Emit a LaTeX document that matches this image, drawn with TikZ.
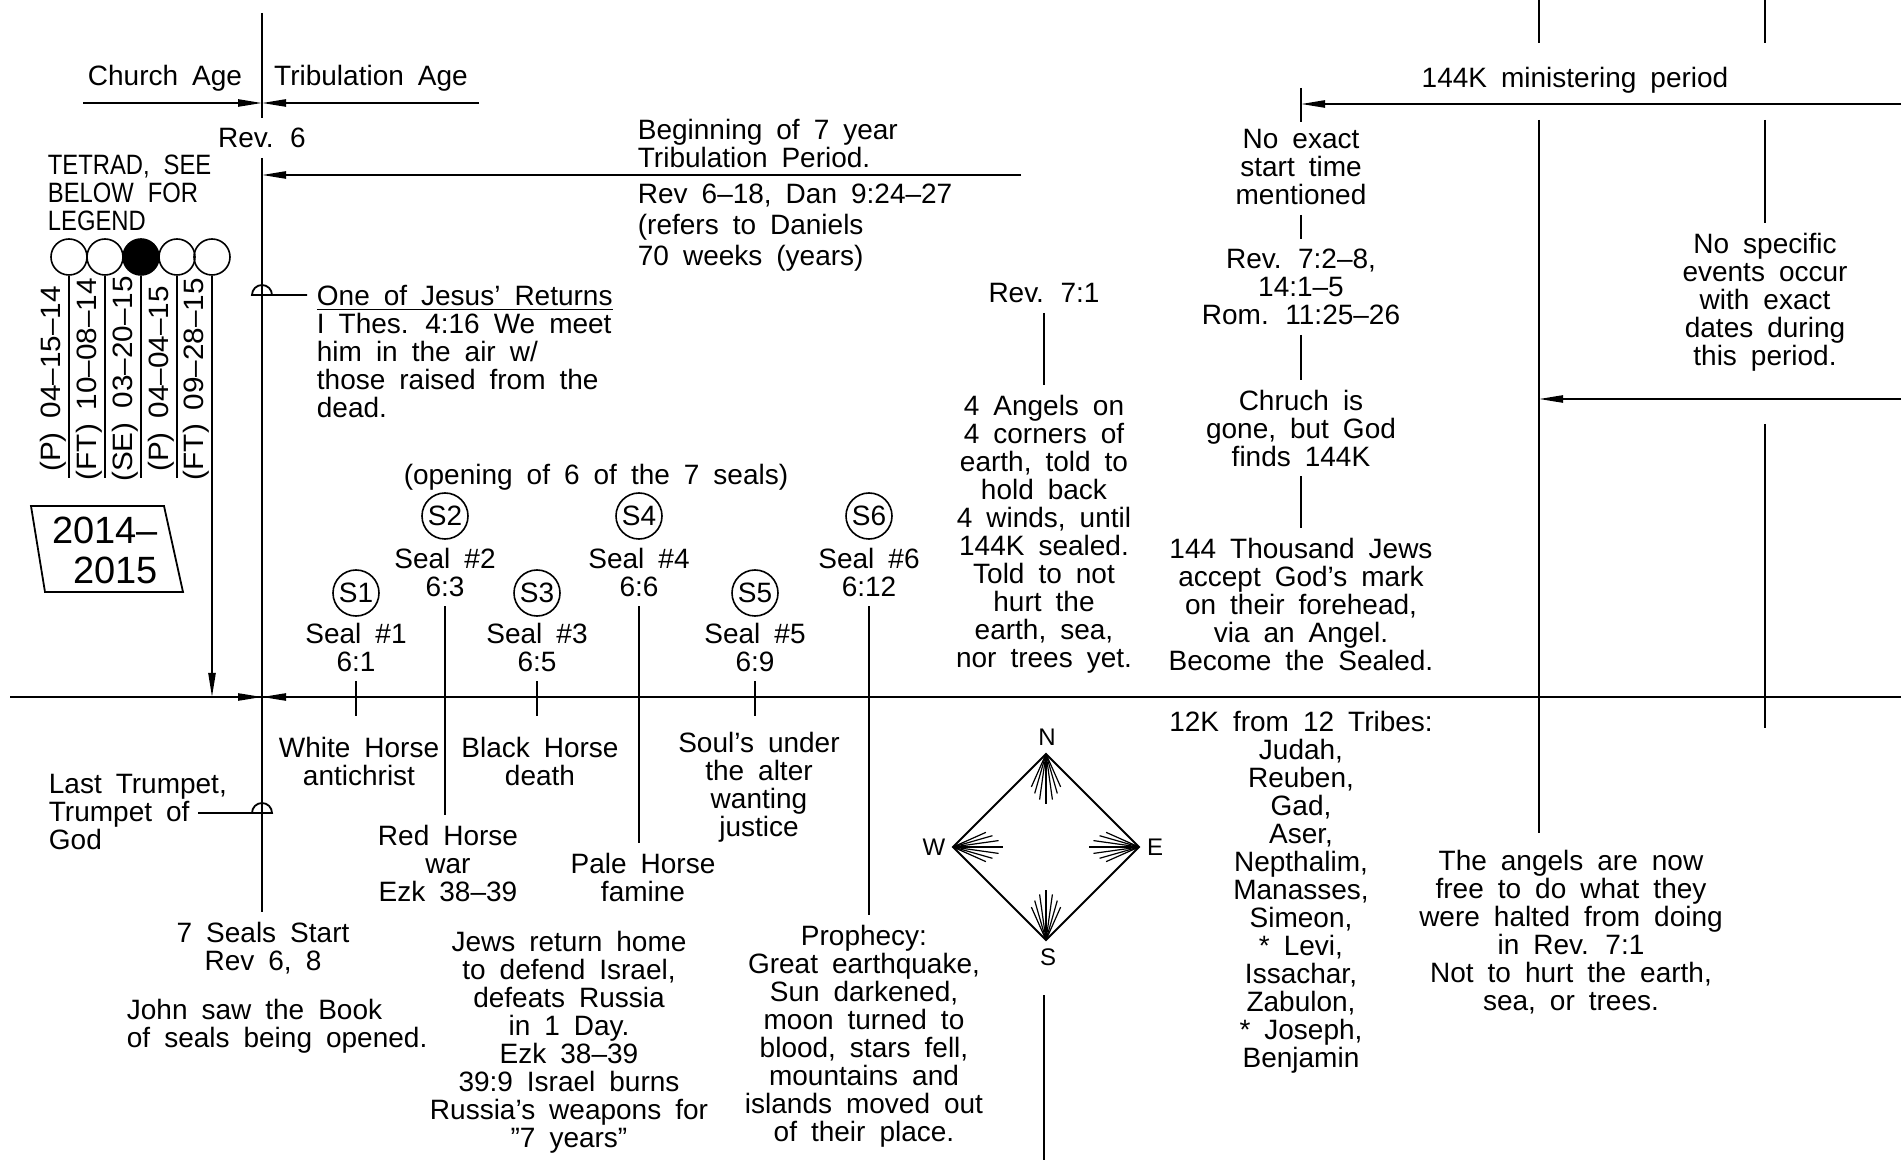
\documentclass[tikz,border=0pt]{standalone}
\usepackage{fontspec}
\setmainfont{Liberation Sans}[Ligatures=TeX]
\usetikzlibrary{arrows.meta}
\newcommand\cadfont{\fontsize{14}{14}\selectfont\spaceskip=0.5em\relax}
\newcommand\loosefont{\fontsize{14}{15.5}\selectfont\spaceskip=0.5em\relax}
\begin{document}
\begin{tikzpicture}[x=0.5pt, y=-0.5pt, line width=0.9pt, >={Triangle[length=12pt,width=3.6pt]},
  every node/.style={font=\cadfont, inner sep=0pt, align=center},
  col/.style={outer sep=5pt},
  lft/.style={align=left, anchor=west},
  seal/.style={draw, circle, minimum size=23pt, line width=0.8pt},
  tet/.style={draw, circle, minimum size=18pt, line width=0.8pt},
  fan/.style={line width=0.6pt}]
\useasboundingbox (0,0) rectangle (1903,1160);
\coordinate (tl) at (10,697);
\coordinate (tr) at (1901,697);
\coordinate (rs) at (262,697);
\draw (tl) -- (tr);
\draw[->] (200,697) -- (rs);
\draw[->] (324,697) -- (rs);
\node (church) at (165,78) {Church Age};
\node (tribage) at (371,78) {Tribulation Age};
\coordinate (split) at (262,103);
\draw[->] (83,103) -- (split);
\draw[->] (479,103) -- (split);
\node[col] (rev6) at (262,138) {Rev. 6};
\node[col] (sealstart) at (263,948) {7 Seals Start\\Rev 6, 8};
\draw (262,13) -- (rev6.north);
\draw (rev6.south) -- (rev6.south |- sealstart.north);
\draw[->] (1021,175) -- (262,175);
\node[lft] (begin) at (637,143) {Beginning of 7 year\\Tribulation Period.};
\node[lft, font=\loosefont] (dan) at (637,228) {Rev 6--18, Dan 9:24--27\\(refers to Daniels\\70 weeks (years)};
\draw (307,295) -- (252,295) arc[start angle=180, end angle=360, radius=10];
\node[lft] (jesus) at (316,352) {\underline{One of Jesus' Returns}\\I Thes. 4:16 We meet\\him in the air w/\\those raised from the\\dead.};
\draw (198,813) -- (272,813) arc[start angle=0, end angle=-180, radius=10];
\node[lft] (trumpet) at (48,812) {Last Trumpet,\\Trumpet of\\God};
\node[lft] (john) at (126,1026) {John saw the Book\\of seals being opened.};
\node[lft, font=\cadfont\addfontfeatures{FakeStretch=0.85}] (tetrad) at (47,193) {TETRAD, SEE\\BELOW FOR\\LEGEND};
\foreach \i/\x/\lbl in {1/69/{(P) 04--15--14}, 2/105/{(FT) 10--08--14}, 3/141/{(SE) 03--20--15}, 4/177/{(P) 04--04--15}, 5/212/{(FT) 09--28--15}} {
  \node[tet] (t\i) at (\x,257) {};
  \node[rotate=90, anchor=south, font=\cadfont\addfontfeatures{FakeStretch=1.06}] (d\i) at (\x-1.5,379) {\lbl};
}
\fill (t3) circle (18);
\foreach \i in {1,...,4} \draw (t\i.south) -- ++(0,202);
\draw[->] (t5.south) -- (t5.south |- tl);
\draw (31,506) -- (164,506) -- (183,592) -- (45,592) -- cycle;
\node[font=\fontsize{19}{20}\selectfont, align=right] (years) at (105,550) {2014--\\2015};
\node (opening) at (596,477) {(opening of 6 of the 7 seals)};
\node[seal] (s1) at (356,593) {S1};
\node[seal] (s2) at (445,516) {S2};
\node[seal] (s3) at (537,593) {S3};
\node[seal] (s4) at (639,516) {S4};
\node[seal] (s5) at (755,593) {S5};
\node[seal] (s6) at (869,516) {S6};
\node[col] (st1) at (356,647) {Seal \#1\\6:1};
\node[col] (st2) at (445,572) {Seal \#2\\6:3};
\node[col] (st3) at (537,647) {Seal \#3\\6:5};
\node[col] (st4) at (639,572) {Seal \#4\\6:6};
\node[col] (st5) at (755,647) {Seal \#5\\6:9};
\node[col] (st6) at (869,572) {Seal \#6\\6:12};
\foreach \i in {1,3,5} \draw (st\i.south) -- ++(0,35);
\node (white) at (359,761) {White Horse\\antichrist};
\node (black) at (540,761) {Black Horse\\death};
\node (soul) at (759,787) {Soul's under\\the alter\\wanting\\justice};
\node[col] (red) at (448,863) {Red Horse\\war\\Ezk 38--39};
\node[col] (pale) at (643,877) {Pale Horse\\famine};
\node[col] (proph) at (864,1036) {Prophecy:\\Great earthquake,\\Sun darkened,\\moon turned to\\blood, stars fell,\\mountains and\\islands moved out\\of their place.};
\node (russia) at (569,1042) {Jews return home\\to defend Israel,\\defeats Russia\\in 1 Day.\\Ezk 38--39\\39:9 Israel burns\\Russia's weapons for\\''7 years''};
\draw (st2.south) -- (st2.south |- red.north);
\draw (st4.south) -- (st4.south |- pale.north);
\draw (st6.south) -- (st6.south |- proph.north);
\node[col] (r71) at (1044,293) {Rev. 7:1};
\node[col] (angels) at (1044,534) {4 Angels on\\4 corners of\\earth, told to\\hold back\\4 winds, until\\144K sealed.\\Told to not\\hurt the\\earth, sea,\\nor trees yet.};
\draw (r71.south) -- (r71.south |- angels.north);
\coordinate (cn) at (1046,754);
\coordinate (ce) at (1139,847);
\coordinate (cs) at (1046,940);
\coordinate (cw) at (953,847);
\draw (cn) -- (ce) -- (cs) -- (cw) -- cycle;
\foreach \p/\t in {cn/90, ce/180, cs/270, cw/0}
  \foreach \d/\l in {-24/36, -16/41, -8/46, 0/50, 8/46, 16/41, 24/36}
    \draw[fan] (\p) -- ++(\t+\d:\l);
\node[font=\fontsize{12}{12}\selectfont] (north) at (1047,737) {N};
\node[font=\fontsize{12}{12}\selectfont] (east) at (1155,847) {E};
\node[font=\fontsize{12}{12}\selectfont] (south) at (1048,957) {S};
\node[font=\fontsize{12}{12}\selectfont] (west) at (934,847) {W};
\draw (1044,995) -- (1044,1160);
\coordinate (k0) at (1301,104);
\draw (1301,88) -- (1301,122);
\draw[->] (1901,104) -- (k0);
\node (kmin) at (1575,80) {144K ministering period};
\node[col] (noexact) at (1301,167) {No exact\\start time\\mentioned};
\node[col] (revs) at (1301,287) {Rev. 7:2--8,\\14:1--5\\Rom. 11:25--26};
\node[col] (chruch) at (1301,428) {Chruch is\\gone, but God\\finds 144K};
\node[col] (sealed) at (1301,604) {144 Thousand Jews\\accept God's mark\\on their forehead,\\via an Angel.\\Become the Sealed.};
\draw (noexact) -- (revs);
\draw (revs) -- (chruch);
\draw (chruch) -- (sealed);
\node (tribes) at (1301,892) {12K from 12 Tribes:\\Judah,\\Reuben,\\Gad,\\Aser,\\Nepthalim,\\Manasses,\\Simeon,\\* Levi,\\Issachar,\\Zabulon,\\* Joseph,\\Benjamin};
\draw (1539,0) -- (1539,43);
\draw (1539,120) -- (1539,833);
\draw[->] (1901,399) -- (1539,399);
\draw (1765,0) -- (1765,43);
\node[col] (nospec) at (1765,302) {No specific\\events occur\\with exact\\dates during\\this period.};
\draw (1765,120) -- (nospec.north);
\draw (1765,424) -- (1765,728);
\node (free) at (1571,932) {The angels are now\\free to do what they\\were halted from doing\\in Rev. 7:1\\Not to hurt the earth,\\sea, or trees.};
\end{tikzpicture}
\end{document}
